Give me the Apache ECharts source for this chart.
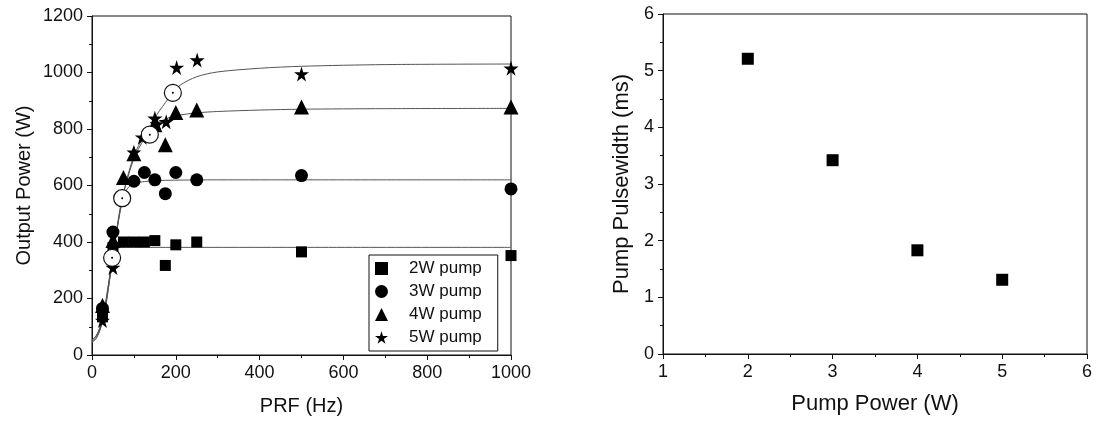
<!DOCTYPE html>
<html><head><meta charset="utf-8">
<script src="https://cdn.jsdelivr.net/npm/echarts@6/dist/echarts.min.js"></script>
<style>html,body{margin:0;padding:0;background:#fff}#c{width:1096px;height:421px}</style>
</head><body><div id="c"></div>
<script>
// ---- Left panel: Output power vs PRF ----
const prf2 = [25, 50, 75, 100, 125, 150, 175, 200, 250, 500, 1000];
const pow2 = [135, 380, 400, 400, 400, 405, 317, 390, 400, 365, 352];
const prf3 = [25, 50, 100, 125, 150, 175, 200, 250, 500, 1000];
const pow3 = [165, 435, 615, 646, 620, 571, 646, 620, 635, 588];
const prf4 = [25, 50, 75, 100, 150, 175, 200, 250, 500, 1000];
const pow4 = [175, 405, 628, 712, 815, 744, 858, 867, 878, 878];
const prf5 = [25, 50, 100, 120, 150, 155, 177, 202, 251, 500, 1000];
const pow5 = [122, 310, 718, 771, 838, 818, 826, 1018, 1044, 995, 1015];
const prfOpen = [48, 72, 138, 193];
const powOpen = [344, 555, 780, 928];
// fitted curves
const fitX2 = [0, 10, 20, 30, 40, 50, 55, 60, 80, 100, 200, 500, 1000];
const fitY2 = [52, 68, 100, 160, 255, 350, 372, 379, 381, 381, 381, 381, 381];
const fitX3 = [0, 10, 20, 30, 40, 50, 60, 70, 80, 90, 100, 125, 150, 200, 300, 500, 1000];
const fitY3 = [52, 68, 102, 165, 258, 355, 450, 528, 578, 598, 607, 614, 617, 619, 620, 620, 620];
const fitX4 = [0, 10, 20, 30, 40, 50, 60, 75, 100, 125, 150, 175, 200, 250, 300, 400, 500, 700, 1000];
const fitY4 = [48, 62, 95, 155, 245, 345, 445, 572, 705, 775, 815, 835, 847, 857, 862, 867, 870, 872, 873];
const fitX5 = [0, 10, 20, 30, 40, 48, 60, 72, 100, 125, 138, 150, 175, 193, 210, 250, 300, 400, 500, 700, 1000];
const fitY5 = [45, 58, 92, 150, 245, 344, 455, 555, 695, 765, 780, 838, 893, 928, 955, 985, 1002, 1015, 1022, 1028, 1030];
const legendNames = ['2W pump', '3W pump', '4W pump', '5W pump'];
// ---- Right panel: Pump pulsewidth vs pump power ----
const pumpPower = [2, 3, 4, 5];
const pulseWidth = [5.21, 3.42, 1.83, 1.31];

const zip = (a, b) => a.map((v, i) => [v, b[i]]);
const FONT = 'Liberation Sans';
const TXT = '#111';
const STAR = 'path://M50,0 L61,35 L98,35 L68,57 L79,91 L50,70 L21,91 L32,57 L2,35 L39,35 Z';

function axisCommon(extra, nameSize) {
  return Object.assign({
    axisLine: { show: true, onZero: false, lineStyle: { color: '#111', width: 1 } },
    axisTick: { show: true, inside: false, length: 5, lineStyle: { color: '#111' } },
    minorTick: { show: true, splitNumber: 2, length: 3, lineStyle: { color: '#111' } },
    splitLine: { show: false },
    axisLabel: { color: TXT, fontFamily: FONT, fontSize: 18, margin: 9, formatter: v => String(v) },
    nameLocation: 'middle',
    nameTextStyle: { color: TXT, fontFamily: FONT, fontSize: nameSize }
  }, extra);
}

function fit(name, x, y) {
  return { type: 'line', name: name, xAxisIndex: 0, yAxisIndex: 0, data: zip(x, y),
    smooth: 0.3, showSymbol: false, silent: true,
    lineStyle: { color: '#555', width: 1 }, z: 1 };
}
function pts(name, x, y, symbol, size) {
  return { type: 'scatter', name: name, xAxisIndex: 0, yAxisIndex: 0, data: zip(x, y),
    symbol: symbol, symbolSize: size, itemStyle: { color: '#000', opacity: 1 }, z: 3 };
}

const option = {
  backgroundColor: '#fff',
  animation: false,
  grid: [
    { left: 92, top: 16, width: 419, height: 342, show: true, borderColor: '#111', borderWidth: 1 },
    { left: 663, top: 14, width: 424, height: 340, show: true, borderColor: '#111', borderWidth: 1 }
  ],
  xAxis: [
    axisCommon({ gridIndex: 0, type: 'value', min: 0, max: 1000, interval: 200, name: 'PRF (Hz)', nameGap: 41 }, 20),
    axisCommon({ gridIndex: 1, type: 'value', min: 1, max: 6, interval: 1, name: 'Pump Power (W)', nameGap: 39 }, 22)
  ],
  yAxis: [
    axisCommon({ gridIndex: 0, type: 'value', min: 0, max: 1200, interval: 200, name: 'Output Power (W)', nameGap: 58 }, 20),
    axisCommon({ gridIndex: 1, type: 'value', min: 0, max: 6, interval: 1, name: 'Pump Pulsewidth (ms)', nameGap: 30 }, 22)
  ],
  legend: {
    data: legendNames,
    orient: 'vertical',
    left: 369, top: 255,
    width: 128,
    padding: [5, 16, 5, 6],
    itemGap: 6,
    itemWidth: 13, itemHeight: 13,
    borderColor: '#111', borderWidth: 1,
    backgroundColor: '#fff',
    textStyle: { color: TXT, fontFamily: FONT, fontSize: 17, padding: [0, 0, 0, 16] }
  },
  series: [
    fit('f2', fitX2, fitY2),
    fit('f3', fitX3, fitY3),
    fit('f4', fitX4, fitY4),
    fit('f5', fitX5, fitY5),
    pts('2W pump', prf2, pow2, 'rect', 11),
    pts('3W pump', prf3, pow3, 'circle', 13),
    pts('4W pump', prf4, pow4, 'triangle', 15),
    pts('5W pump', prf5, pow5, STAR, 15),
    { type: 'scatter', name: 'open', xAxisIndex: 0, yAxisIndex: 0, data: zip(prfOpen, powOpen),
      symbol: 'circle', symbolSize: 17, itemStyle: { color: '#fff', borderColor: '#111', borderWidth: 1.2, opacity: 1 }, z: 4 },
    { type: 'scatter', name: 'openDot', xAxisIndex: 0, yAxisIndex: 0, data: zip(prfOpen, powOpen),
      symbol: 'circle', symbolSize: 2, itemStyle: { color: '#000', opacity: 1 }, z: 5, silent: true },
    { type: 'scatter', name: 'pulse', xAxisIndex: 1, yAxisIndex: 1, data: zip(pumpPower, pulseWidth),
      symbol: 'rect', symbolSize: 12, itemStyle: { color: '#000', opacity: 1 } }
  ]
};
echarts.init(document.getElementById('c')).setOption(option);
</script></body></html>
